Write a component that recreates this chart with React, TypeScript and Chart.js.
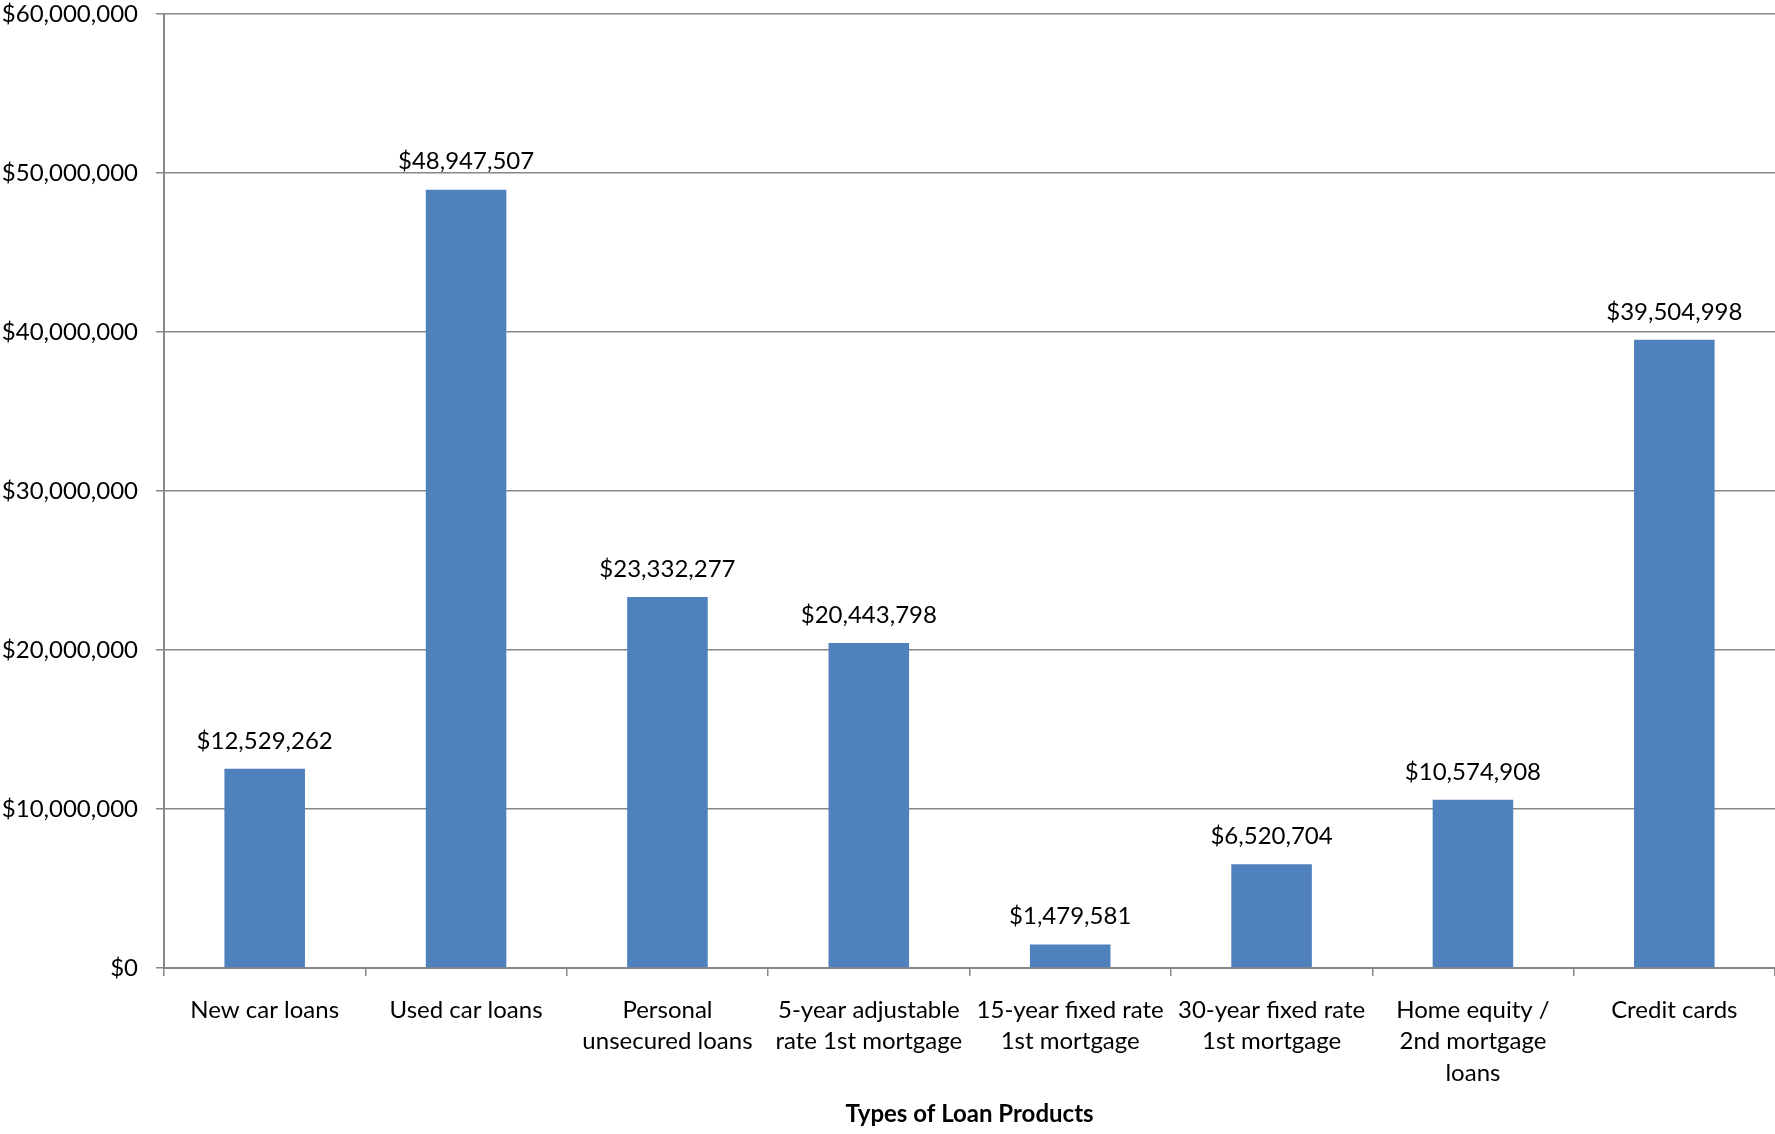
import React, { useEffect, useRef } from "react";
import { Chart, registerables } from "chart.js";

Chart.register(...registerables);

const categories: (string | string[])[] = [
  "New car loans",
  "Used car loans",
  ["Personal", "unsecured loans"],
  ["5-year adjustable", "rate 1st mortgage"],
  ["15-year fixed rate", "1st mortgage"],
  ["30-year fixed rate", "1st mortgage"],
  ["Home equity /", "2nd mortgage", "loans"],
  "Credit cards",
];

const loanValues: number[] = [
  12529262, 48947507, 23332277, 20443798, 1479581, 6520704, 10574908, 39504998,
];

const xAxisTitle = "Types of Loan Products";
const yMax = 60000000;
const yStep = 10000000;

const FONT = "Lato, 'Open Sans', sans-serif";
const GRID = "#878787";
const BAR = "#4F81BD";

const fmt = (v: number) => "$" + Math.round(v).toLocaleString("en-US");

const valueLabels = {
  id: "valueLabels",
  afterDatasetsDraw(chart: any) {
    const ctx = chart.ctx;
    const meta = chart.getDatasetMeta(0);
    ctx.save();
    ctx.font = `24px ${FONT}`;
    ctx.fillStyle = "#000000";
    ctx.textAlign = "center";
    ctx.textBaseline = "middle";
    meta.data.forEach((bar: any, i: number) => {
      ctx.fillText(fmt(loanValues[i]), bar.x, bar.y - 28);
    });
    ctx.restore();
  },
};

export default function App() {
  const ref = useRef<HTMLCanvasElement | null>(null);
  useEffect(() => {
    if (!ref.current) return;
    const chart = new Chart(ref.current, {
      type: "bar",
      data: {
        labels: categories,
        datasets: [
          {
            data: loanValues,
            backgroundColor: BAR,
            barPercentage: 0.4,
            categoryPercentage: 1,
          },
        ],
      },
      options: {
        responsive: false,
        animation: false,
        layout: { padding: { top: 0, left: 0, right: 0, bottom: 0 } },
        plugins: {
          legend: { display: false },
          tooltip: { enabled: false },
        },
        scales: {
          x: {
            offset: true,
            grid: {
              display: true,
              offset: true,
              drawOnChartArea: false,
              drawTicks: true,
              tickLength: 8,
              color: GRID,
              lineWidth: 1.5,
            },
            border: { display: true, color: GRID, width: 2 },
            ticks: {
              color: "#000000",
              font: { family: FONT, size: 24, lineHeight: 1.32 },
              padding: 18,
              maxRotation: 0,
              autoSkip: false,
            },
            title: {
              display: true,
              text: xAxisTitle,
              color: "#000000",
              font: { family: FONT, size: 24, weight: "bold", lineHeight: 1.2 },
              padding: { top: 0, bottom: 5 },
            },
            afterFit: (scale: any) => {
              scale.height = 166;
              scale.paddingTop = 0;
              scale.paddingBottom = 0;
            },
          },
          y: {
            min: 0,
            max: yMax,
            grid: {
              color: GRID,
              lineWidth: 1.5,
              tickLength: 8,
              drawTicks: true,
            },
            border: { display: true, color: GRID, width: 2 },
            ticks: {
              stepSize: yStep,
              color: "#000000",
              font: { family: FONT, size: 24, lineHeight: 1.2 },
              padding: 18,
              callback: (v: any) => fmt(Number(v)),
            },
            afterFit: (scale: any) => {
              scale.width = 164;
              scale.paddingTop = 14;
              scale.paddingBottom = 0;
            },
          },
        },
      },
      plugins: [valueLabels],
    });
    return () => chart.destroy();
  }, []);
  return (
    <div style={{ position: "absolute", left: 0, top: 0, width: 1775, height: 1134, background: "#ffffff" }}>
      <canvas ref={ref} width={1775} height={1134} />
    </div>
  );
}
